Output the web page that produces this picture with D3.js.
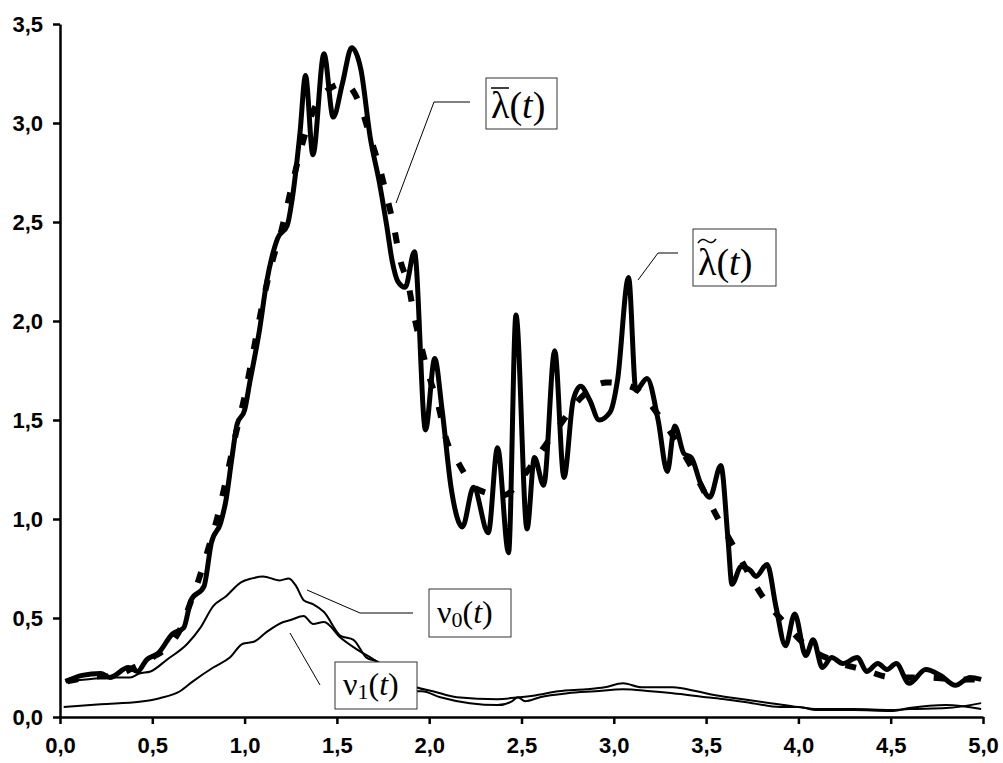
<!DOCTYPE html>
<html>
<head>
<meta charset="utf-8">
<script src="https://cdn.jsdelivr.net/npm/d3@7"></script>
<style>
  body { margin: 0; background: #fff; }
  svg { display: block; }
  .axis text { font-family: "Liberation Sans", Arial, sans-serif; font-weight: bold; font-size: 22px; fill: #000; }
  .axis path, .axis line { stroke: #000; stroke-width: 2.5px; }
  .lbl { font-family: "Liberation Serif", "Times New Roman", serif; fill: #000; }
</style>
</head>
<body>
<svg width="1003" height="763"></svg>
<script>
// lambda tilde (noisy, thick solid)
const tildeT = [0.03,0.12,0.22,0.27,0.37,0.42,0.47,0.53,0.61,0.67,0.71,0.78,0.82,0.87,0.9,0.93,0.96,1.0,1.03,1.08,1.12,1.15,1.18,1.23,1.26,1.3,1.33,1.37,1.43,1.48,1.53,1.58,1.63,1.68,1.73,1.77,1.8,1.83,1.87,1.92,1.98,2.03,2.07,2.12,2.18,2.24,2.32,2.37,2.43,2.47,2.53,2.57,2.62,2.68,2.73,2.78,2.82,2.87,2.92,2.98,3.02,3.08,3.12,3.18,3.24,3.29,3.33,3.38,3.42,3.47,3.52,3.58,3.62,3.64,3.69,3.74,3.77,3.83,3.88,3.93,3.98,4.04,4.08,4.13,4.18,4.24,4.32,4.37,4.43,4.48,4.53,4.6,4.69,4.77,4.85,4.93,4.99];
const tildeV = [0.18,0.21,0.22,0.2,0.25,0.23,0.29,0.32,0.42,0.45,0.59,0.66,0.88,0.98,1.1,1.3,1.48,1.55,1.7,1.95,2.2,2.33,2.42,2.48,2.63,2.95,3.24,2.84,3.35,3.03,3.2,3.38,3.27,2.93,2.7,2.48,2.3,2.2,2.17,2.35,1.45,1.81,1.55,1.15,0.96,1.16,0.93,1.36,0.83,2.03,0.95,1.31,1.17,1.85,1.21,1.6,1.67,1.6,1.5,1.54,1.7,2.22,1.65,1.71,1.5,1.24,1.47,1.33,1.31,1.18,1.11,1.27,0.88,0.67,0.76,0.74,0.71,0.77,0.55,0.36,0.52,0.31,0.39,0.25,0.3,0.27,0.3,0.23,0.27,0.24,0.27,0.17,0.24,0.21,0.16,0.2,0.19];

// lambda bar (smooth, thick dashed)
const barT = [0.04,0.15,0.3,0.4,0.5,0.6,0.65,0.7,0.75,0.8,0.85,0.9,0.95,1.0,1.05,1.1,1.15,1.2,1.26,1.3,1.34,1.43,1.54,1.63,1.68,1.73,1.77,1.81,1.84,1.89,1.92,1.96,2.0,2.05,2.09,2.16,2.26,2.4,2.53,2.62,2.72,2.82,2.96,3.05,3.13,3.23,3.41,3.56,3.65,3.82,3.93,4.03,4.2,4.35,4.51,4.69,4.85,4.98];
const barV = [0.18,0.2,0.21,0.25,0.3,0.37,0.44,0.56,0.69,0.84,1.0,1.2,1.42,1.62,1.86,2.1,2.3,2.46,2.7,2.85,2.98,3.15,3.2,3.08,2.93,2.78,2.63,2.47,2.32,2.17,2.02,1.86,1.72,1.57,1.41,1.28,1.15,1.12,1.24,1.36,1.49,1.61,1.69,1.68,1.65,1.54,1.28,1.01,0.86,0.59,0.47,0.37,0.28,0.24,0.2,0.2,0.19,0.19];

// nu0 (thin, upper)
const nu0T = [0.03,0.14,0.27,0.38,0.43,0.49,0.58,0.69,0.76,0.83,0.9,0.98,1.04,1.1,1.19,1.24,1.28,1.32,1.37,1.43,1.52,1.59,1.66,1.72,1.8,1.93,2.02,2.15,2.37,2.49,2.58,2.7,2.85,2.95,3.05,3.15,3.32,3.45,3.55,3.7,3.85,4.0,4.1,4.3,4.5,4.6,4.8,4.99];
const nu0V = [0.18,0.19,0.2,0.2,0.22,0.23,0.29,0.37,0.45,0.56,0.61,0.68,0.7,0.71,0.69,0.7,0.66,0.59,0.57,0.53,0.41,0.39,0.3,0.28,0.22,0.15,0.13,0.1,0.09,0.1,0.11,0.13,0.14,0.15,0.17,0.15,0.15,0.13,0.11,0.09,0.07,0.05,0.04,0.04,0.035,0.04,0.045,0.07];

// nu1 (thin, lower)
const nu1T = [0.02,0.22,0.43,0.54,0.65,0.72,0.83,0.92,0.99,1.05,1.12,1.21,1.25,1.32,1.37,1.43,1.52,1.61,1.7,1.8,1.9,1.93,1.96,2.06,2.22,2.37,2.45,2.48,2.52,2.6,2.75,2.9,3.05,3.2,3.32,3.5,3.6,3.75,3.9,4.0,4.1,4.3,4.5,4.6,4.8,4.99];
const nu1V = [0.05,0.065,0.077,0.095,0.13,0.18,0.25,0.3,0.37,0.38,0.43,0.48,0.49,0.51,0.47,0.48,0.4,0.34,0.29,0.22,0.15,0.13,0.13,0.1,0.07,0.06,0.08,0.1,0.08,0.1,0.12,0.13,0.14,0.13,0.12,0.1,0.09,0.07,0.05,0.05,0.035,0.035,0.03,0.045,0.06,0.04];

const xTicks = [0,0.5,1,1.5,2,2.5,3,3.5,4,4.5,5];
const yTicks = [0,0.5,1,1.5,2,2.5,3,3.5];

let svg = d3.select("svg");
let x = d3.scaleLinear().domain([0, 5]).range([60, 983]);
let y = d3.scaleLinear().domain([0, 3.5]).range([717, 24]);
let fmt = d => d3.format(".1f")(d).replace(".", ",");

svg.append("g")
  .attr("class", "axis")
  .attr("transform", "translate(0,717)")
  .call(d3.axisBottom(x).tickValues(xTicks).tickFormat(fmt).tickSize(7).tickSizeOuter(0).tickPadding(13));

svg.append("g")
  .attr("class", "axis")
  .attr("transform", "translate(60,0)")
  .call(d3.axisLeft(y).tickValues(yTicks).tickFormat(fmt).tickSize(7).tickSizeOuter(0).tickPadding(10));

let line = d3.line().x(d => x(d[0])).y(d => y(d[1])).curve(d3.curveMonotoneX);
let zip = (a, b) => a.map((t, i) => [t, b[i]]);

svg.append("path").datum(zip(nu0T, nu0V)).attr("d", line)
  .attr("fill", "none").attr("stroke", "#000").attr("stroke-width", 2);
svg.append("path").datum(zip(nu1T, nu1V)).attr("d", line)
  .attr("fill", "none").attr("stroke", "#000").attr("stroke-width", 2);
svg.append("path").datum(zip(tildeT, tildeV)).attr("d", line)
  .attr("fill", "none").attr("stroke", "#000").attr("stroke-width", 5).attr("stroke-linejoin", "round");
svg.append("path").datum(zip(barT, barV)).attr("d", line)
  .attr("fill", "none").attr("stroke", "#000").attr("stroke-width", 6).attr("stroke-dasharray", "11,19");

// callouts: leader + box + text
function callout(pts, box, draw) {
  svg.append("polyline").attr("points", pts.map(p => p.join(",")).join(" "))
    .attr("fill", "none").attr("stroke", "#000").attr("stroke-width", 1);
  svg.append("rect").attr("x", box[0]).attr("y", box[1]).attr("width", box[2]).attr("height", box[3])
    .attr("fill", "#fff").attr("stroke", "#333").attr("stroke-width", 1);
  draw(box);
}

function lamText(box, mark) {
  let t = svg.append("text").attr("class", "lbl").attr("x", box[0] + 5).attr("y", box[1] + box[3] - 11)
    .attr("font-size", 38);
  t.append("tspan").text("λ");
  t.append("tspan").text("(");
  t.append("tspan").attr("font-style", "italic").text("t");
  t.append("tspan").text(")");
  let cx = box[0] + 14;
  if (mark === "bar") {
    svg.append("line").attr("x1", cx - 9).attr("x2", cx + 9)
      .attr("y1", box[1] + 10).attr("y2", box[1] + 10).attr("stroke", "#000").attr("stroke-width", 1.5);
  } else {
    let ty = box[1] + 12;
    svg.append("path")
      .attr("d", `M${cx - 9},${ty + 2} Q${cx - 5},${ty - 4} ${cx},${ty} T${cx + 9},${ty - 2}`)
      .attr("fill", "none").attr("stroke", "#000").attr("stroke-width", 1.5);
  }
}

function nuText(box, sub) {
  let t = svg.append("text").attr("class", "lbl").attr("x", box[0] + 8).attr("y", box[1] + box[3] - 14)
    .attr("font-size", 32);
  t.append("tspan").text("ν");
  t.append("tspan").attr("font-size", 22).attr("dy", 4).text(sub);
  t.append("tspan").attr("dy", -4).text("(");
  t.append("tspan").attr("font-style", "italic").text("t");
  t.append("tspan").text(")");
}

callout([[396, 203], [434, 102], [470, 102]], [486, 78, 71, 51], b => lamText(b, "bar"));
callout([[638, 280], [658, 253], [678, 253]], [693, 229, 83, 57], b => lamText(b, "tilde"));
callout([[307, 590], [360, 613], [413, 613]], [429, 589, 82, 48], b => nuText(b, "0"));
callout([[290, 633], [320, 685]], [335, 662, 82, 47], b => nuText(b, "1"));
</script>
</body>
</html>
